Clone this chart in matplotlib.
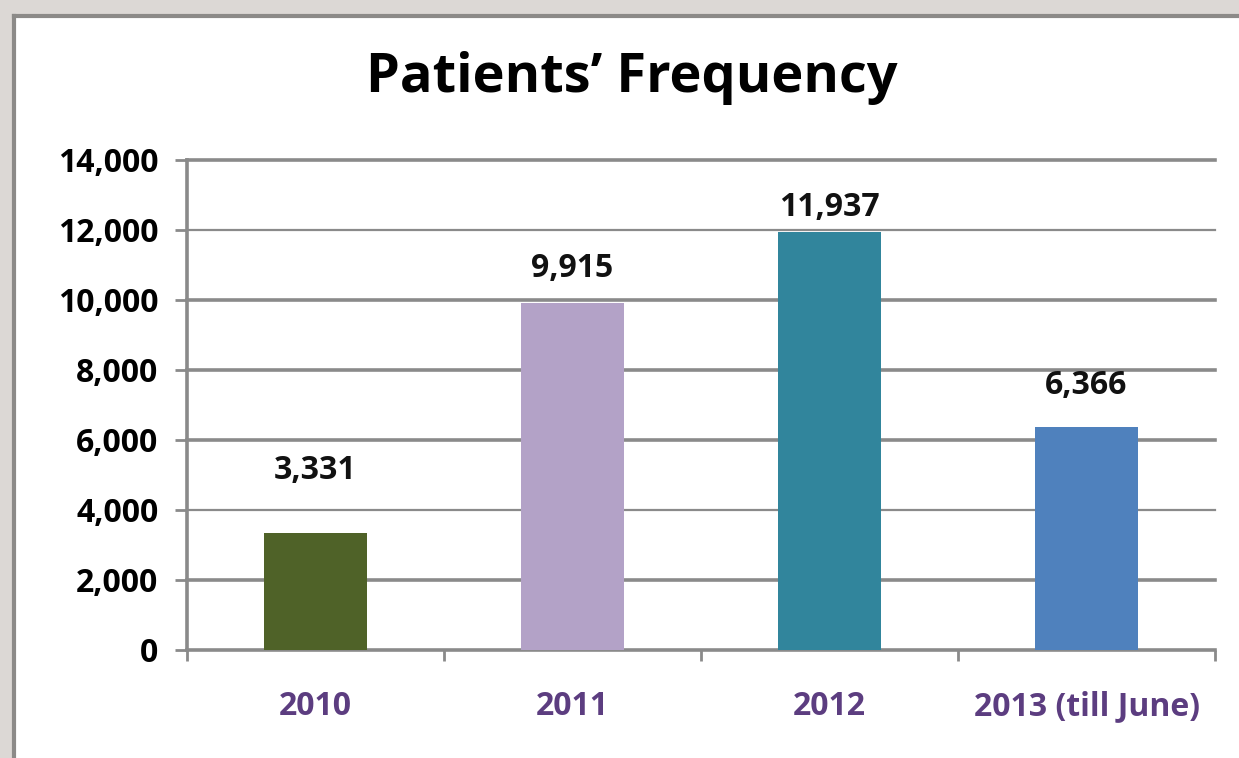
import numpy as np
import matplotlib
matplotlib.use("Agg")
import matplotlib.pyplot as plt
from matplotlib.patches import Rectangle
from matplotlib.lines import Line2D

# data
years = ["2010", "2011", "2012", "2013 (till June)"]
patients = [3331, 9915, 11937, 6366]
bar_colors = ["#4F6228", "#B3A2C7", "#31859C", "#4F81BD"]
yticks = [0, 2000, 4000, 6000, 8000, 10000, 12000, 14000]

# label offsets above bar tops (points), as placed in the original
label_offsets = [45, 25, 18, 30]

plt.rcParams['font.family'] = ['Open Sans', 'DejaVu Sans']

W, H = 1239, 758
fig = plt.figure(figsize=(W / 100, H / 100), dpi=100)
fig.patch.set_facecolor("#dcd8d5")

# white panel with dark frame on left/top
fig.patches.append(Rectangle((14 / W, 0), 1, (H - 16) / H, transform=fig.transFigure,
                             facecolor="white", edgecolor="none", zorder=-10))
fig.add_artist(Line2D([14 / W, 14 / W], [0, (H - 16) / H], transform=fig.transFigure,
                      color="#8c8a88", lw=3, zorder=-5))
fig.add_artist(Line2D([14 / W, 1], [(H - 16) / H, (H - 16) / H], transform=fig.transFigure,
                      color="#8c8a88", lw=3, zorder=-5))

ax = fig.add_axes([187 / W, (H - 650) / H, (1215 - 187) / W, (650 - 160) / H])
ax.set_facecolor("white")

x = np.arange(len(years))
bars = ax.bar(x, patients, width=0.4, color=bar_colors, zorder=3)

ax.set_xlim(-0.5, len(years) - 0.5)
ax.set_ylim(0, 14000)
ax.set_yticks(yticks)
ax.set_yticklabels([f"{v:,}" for v in yticks])

# gridlines (some look heavier in the original)
for v in yticks[1:]:
    lw = 1.6 if v in (12000, 4000) else 2.6
    ax.axhline(v, color="#8a8a8a", lw=lw, zorder=1, clip_on=False)

for s in ["top", "right"]:
    ax.spines[s].set_visible(False)
ax.spines["left"].set_color("#8a8a8a")
ax.spines["bottom"].set_color("#8a8a8a")
ax.spines["left"].set_linewidth(2.6)
ax.spines["bottom"].set_linewidth(2.6)

ax.set_xticks(np.arange(len(years) + 1) - 0.5, minor=False)
ax.set_xticklabels([])
ax.tick_params(axis="x", direction="out", length=8, width=2, color="#8a8a8a")
ax.set_xticks(x, minor=True)
ax.set_xticklabels(years, minor=True)
ax.tick_params(axis="x", which="minor", length=0, pad=29, labelsize=23,
               labelcolor="#5c3d80")
for lab in ax.get_xticklabels(minor=True):
    lab.set_fontweight("bold")

ax.tick_params(axis="y", direction="out", length=8.5, width=2, color="#8a8a8a",
               labelsize=23, pad=12)
for lab in ax.get_yticklabels():
    lab.set_fontweight("bold")

for b, v, off in zip(bars, patients, label_offsets):
    ax.annotate(f"{v:,}", (b.get_x() + b.get_width() / 2, v), xytext=(0, off),
                textcoords="offset points", ha="center", va="center",
                fontsize=23, fontweight="bold", color="#111111")

fig.text(632 / W, (H - 78) / H, "Patients\u2019 Frequency", ha="center", va="center",
         fontsize=39, fontweight="bold", color="black")

fig.savefig("out.png", dpi=100, facecolor=fig.get_facecolor())
